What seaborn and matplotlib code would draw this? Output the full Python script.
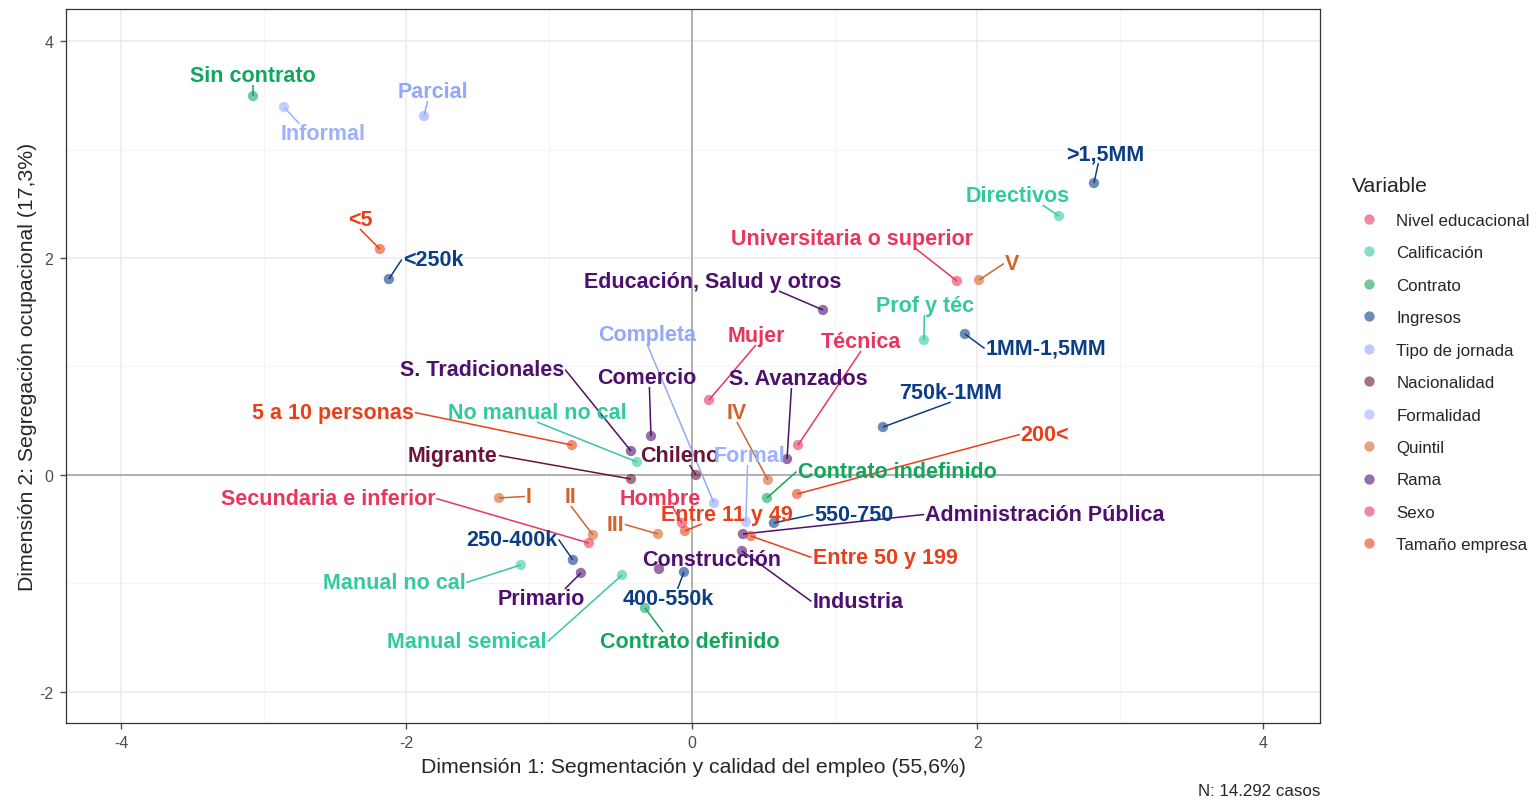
import matplotlib
matplotlib.use("Agg")
import matplotlib.pyplot as plt
import matplotlib.transforms as mtransforms
import seaborn as sns
import numpy as np
import pandas as pd

# categories of the MCA, grouped by variable
variables = ["Nivel educacional", "Calificación", "Contrato", "Ingresos",
             "Tipo de jornada", "Nacionalidad", "Formalidad", "Quintil",
             "Rama", "Sexo", "Tamaño empresa"]

educ = ["Universitaria o superior", "Técnica", "Secundaria e inferior"]
educ_d1 = [1.856, 0.743, -0.722]
educ_d2 = [1.788, 0.276, -0.627]

calif = ["Directivos", "Prof y téc", "No manual no cal", "Manual no cal", "Manual semical"]
calif_d1 = [2.571, 1.625, -0.385, -1.198, -0.490]
calif_d2 = [2.387, 1.244, 0.120, -0.829, -0.922]

contrato = ["Sin contrato", "Contrato indefinido", "Contrato definido"]
contrato_d1 = [-3.075, 0.525, -0.329]
contrato_d2 = [3.493, -0.212, -1.226]

ingresos = ["<250k", "250-400k", "400-550k", "550-750", "750k-1MM", "1MM-1,5MM", ">1,5MM"]
ingresos_d1 = [-2.123, -0.834, -0.056, 0.574, 1.338, 1.912, 2.816]
ingresos_d2 = [1.806, -0.783, -0.894, -0.442, 0.442, 1.300, 2.691]

jornada = ["Parcial", "Completa"]
jornada_d1 = [-1.877, 0.154]
jornada_d2 = [3.309, -0.258]

nacion = ["Migrante", "Chileno"]
nacion_d1 = [-0.427, 0.028]
nacion_d2 = [-0.037, 0.0]

formal = ["Informal", "Formal"]
formal_d1 = [-2.858, 0.378]
formal_d2 = [3.392, -0.433]

quintil = ["I", "II", "III", "IV", "V"]
quintil_d1 = [-1.352, -0.694, -0.238, 0.532, 2.011]
quintil_d2 = [-0.212, -0.553, -0.544, -0.046, 1.797]

rama = ["Educación, Salud y otros", "S. Tradicionales", "Comercio", "S. Avanzados",
        "Construcción", "Industria", "Administración Pública", "Primario"]
rama_d1 = [0.918, -0.427, -0.287, 0.666, -0.231, 0.350, 0.357, -0.778]
rama_d2 = [1.521, 0.221, 0.359, 0.147, -0.866, -0.700, -0.544, -0.903]

sexo = ["Mujer", "Hombre"]
sexo_d1 = [0.119, -0.070]
sexo_d2 = [0.691, -0.442]

tamano = ["<5", "5 a 10 personas", "Entre 11 y 49", "Entre 50 y 199", "200<"]
tamano_d1 = [-2.186, -0.841, -0.049, 0.413, 0.736]
tamano_d2 = [2.083, 0.276, -0.516, -0.562, -0.175]

# where the repelled labels ended up (data units)
label_pos = {
    "Universitaria o superior": (1.121, 2.203), "Técnica": (1.184, 1.253),
    "Secundaria e inferior": (-2.550, -0.194),
    "Directivos": (2.284, 2.599), "Prof y téc": (1.632, 1.585),
    "No manual no cal": (-1.086, 0.599), "Manual no cal": (-2.088, -0.968),
    "Manual semical": (-1.576, -1.512),
    "Sin contrato": (-3.075, 3.705), "Contrato indefinido": (1.436, 0.055),
    "Contrato definido": (-0.014, -1.512),
    "<250k": (-1.814, 2.009), "250-400k": (-1.261, -0.571), "400-550k": (-0.168, -1.115),
    "550-750": (1.135, -0.341), "750k-1MM": (1.814, 0.783), "1MM-1,5MM": (2.480, 1.189),
    ">1,5MM": (2.893, 2.986),
    "Parcial": (-1.814, 3.558), "Completa": (-0.315, 1.318),
    "Migrante": (-1.674, 0.203), "Chileno": (-0.084, 0.203),
    "Informal": (-2.585, 3.171), "Formal": (0.406, 0.203),
    "I": (-1.142, -0.175), "II": (-0.848, -0.175), "III": (-0.539, -0.433),
    "IV": (0.315, 0.599), "V": (2.242, 1.972),
    "Educación, Salud y otros": (0.147, 1.806), "S. Tradicionales": (-1.471, 0.995),
    "Comercio": (-0.315, 0.922), "S. Avanzados": (0.743, 0.912),
    "Construcción": (0.140, -0.756), "Industria": (1.163, -1.143),
    "Administración Pública": (2.473, -0.341), "Primario": (-1.058, -1.115),
    "Mujer": (0.448, 1.309), "Hombre": (-0.224, -0.194),
    "<5": (-2.326, 2.378), "5 a 10 personas": (-2.515, 0.599),
    "Entre 11 y 49": (0.245, -0.341), "Entre 50 y 199": (1.352, -0.737),
    "200<": (2.473, 0.396),
}

palette = {
    "Nivel educacional": "#E8365E",
    "Calificación": "#34C9A0",
    "Contrato": "#12A65C",
    "Ingresos": "#0C3E86",
    "Tipo de jornada": "#93A8FA",
    "Nacionalidad": "#6A1538",
    "Formalidad": "#9DB0FF",
    "Quintil": "#D2642C",
    "Rama": "#4E0F6E",
    "Sexo": "#E8365E",
    "Tamaño empresa": "#E8401A",
}

groups = [
    (educ, educ_d1, educ_d2), (calif, calif_d1, calif_d2),
    (contrato, contrato_d1, contrato_d2), (ingresos, ingresos_d1, ingresos_d2),
    (jornada, jornada_d1, jornada_d2), (nacion, nacion_d1, nacion_d2),
    (formal, formal_d1, formal_d2), (quintil, quintil_d1, quintil_d2),
    (rama, rama_d1, rama_d2), (sexo, sexo_d1, sexo_d2),
    (tamano, tamano_d1, tamano_d2),
]

rows = []
for var, (cats, d1, d2) in zip(variables, groups):
    for c, a, b in zip(cats, d1, d2):
        rows.append({"Categoria": c, "Variable": var, "dim1": a, "dim2": b})
df = pd.DataFrame(rows)

sns.set_style("white")
plt.rcParams["font.family"] = ["Liberation Sans", "DejaVu Sans"]
plt.rcParams["axes.unicode_minus"] = False

fig, ax = plt.subplots(figsize=(15.38, 8.03), dpi=100)
fig.subplots_adjust(left=0.0429, right=0.8583, top=0.9875, bottom=0.0984)

ax.set_xlim(-4.385, 4.40)
ax.set_ylim(-2.286, 4.295)

# theme_bw-like grid
for v in [-4, -2, 0, 2, 4]:
    ax.axvline(v, color="#EBEBEB", lw=1.1, zorder=0)
for v in [-3, -1, 1, 3]:
    ax.axvline(v, color="#F2F2F2", lw=0.6, zorder=0)
for v in [-2, 0, 2, 4]:
    ax.axhline(v, color="#EBEBEB", lw=1.1, zorder=0)
for v in [-1, 1, 3]:
    ax.axhline(v, color="#F2F2F2", lw=0.6, zorder=0)
ax.axvline(0, color="#A6A6A6", lw=1.2, zorder=1)
ax.axhline(0, color="#A6A6A6", lw=1.2, zorder=1)

sns.scatterplot(data=df, x="dim1", y="dim2", hue="Variable", hue_order=variables,
                palette=palette, s=55, alpha=0.6, linewidth=0, ax=ax, zorder=3)

ax.set_xticks([-4, -2, 0, 2, 4])
ax.set_yticks([-2, 0, 2, 4])
ax.tick_params(axis="both", labelsize=11.5, colors="#4D4D4D", length=4, width=1,
               direction="out", bottom=True, left=True, pad=5)
for s in ax.spines.values():
    s.set_color("#333333")
    s.set_linewidth(0.9)

ax.set_xlabel("Dimensión 1: Segmentación y calidad del empleo (55,6%)", fontsize=15.3, labelpad=5)
ax.set_ylabel("Dimensión 2: Segregación ocupacional (17,3%)", fontsize=15.3, labelpad=2)

# labels, nudged a little down to sit like the ggrepel ones
lab_trans = mtransforms.offset_copy(ax.transData, fig=fig, y=-2.5, units="dots")
texts = []
for _, r in df.iterrows():
    lx, ly = label_pos[r["Categoria"]]
    t = ax.text(lx, ly, r["Categoria"], color=palette[r["Variable"]], fontsize=15.5,
                fontweight="bold", ha="center", va="center", zorder=4,
                transform=lab_trans)
    texts.append((t, r))

# segments from each point to the nearest side of its label
fig.canvas.draw()
renderer = fig.canvas.get_renderer()
inv = ax.transData.inverted()
for t, r in texts:
    bb = t.get_window_extent(renderer)
    x0, x1 = bb.x0 - 1, bb.x1 + 1
    y0, y1 = bb.y0 + 1, bb.y1 - 1
    cx, cy = (x0 + x1) / 2, (y0 + y1) / 2
    px, py = ax.transData.transform((r["dim1"], r["dim2"]))
    in_x = x0 <= px <= x1
    in_y = y0 <= py <= y1
    hgap = 0 if in_x else min(abs(px - x0), abs(px - x1))
    vgap = 0 if in_y else min(abs(py - y0), abs(py - y1))
    if np.hypot(hgap, vgap) < 6:
        continue
    if in_x:
        ex, ey = cx + 0.6 * (px - cx), (y0 if py < y0 else y1)
    elif not in_y and hgap <= 0.8 * vgap:
        ex, ey = cx, (y0 if py < y0 else y1)
    else:
        ex, ey = (x0 if px < x0 else x1), cy
    (sx, sy), (tx, ty) = inv.transform([(ex, ey), (px, py)])
    ax.plot([sx, tx], [sy, ty], color=palette[r["Variable"]], lw=1.1, zorder=2,
            solid_capstyle="butt")

leg = ax.legend(loc="upper left", bbox_to_anchor=(1.0134, 0.787), frameon=False,
                title="Variable", fontsize=12.2, title_fontsize=15.3,
                labelspacing=1.03, handletextpad=0.6, alignment="left", markerscale=1.0)
for h in leg.legend_handles:
    h.set_alpha(0.6)

fig.text(0.8583, 0.0137, "N: 14.292 casos", ha="right", va="center", fontsize=12.2)

fig.savefig("out.png", dpi=100)
